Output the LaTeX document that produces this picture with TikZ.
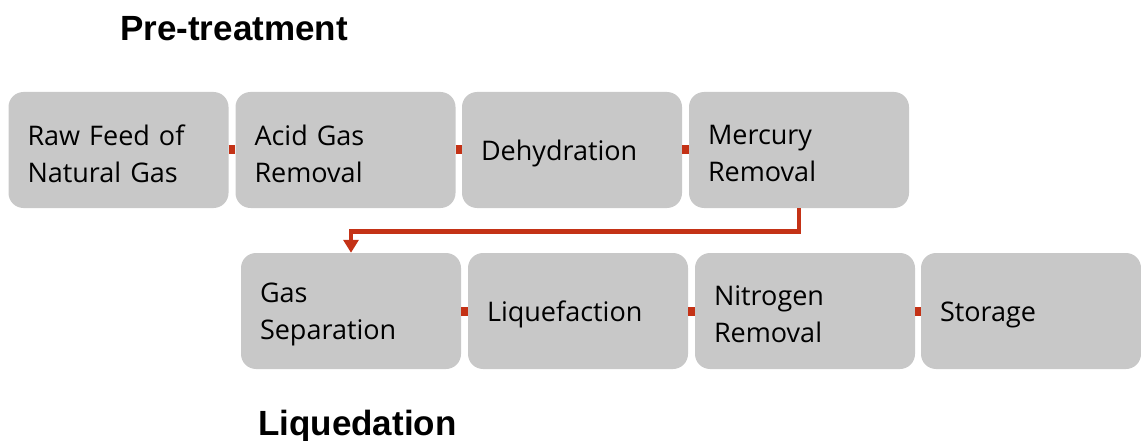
\documentclass[tikz,border=0pt]{standalone}
\usepackage{fontspec}
\setmainfont{Open Sans}
\newfontfamily\titlefont{Liberation Sans}
\usetikzlibrary{arrows.meta}
\definecolor{boxgray}{RGB}{200,200,200}
\definecolor{linkred}{RGB}{196,50,22}
\tikzset{
  stepbox/.style={fill=boxgray, rounded corners=15pt, minimum height=116pt,
    minimum width=220pt, inner sep=0pt},
  boxtext/.style={text width=182pt, inner xsep=19pt, inner ysep=0pt, align=left,
    font=\fontsize{27}{37}\selectfont, text=black, yshift=-3.5pt},
  link/.style={draw=linkred, line width=9pt},
  flow/.style={draw=linkred, line width=4.7pt, -{Triangle[width=15pt,length=13pt]}},
  heading/.style={font=\titlefont\bfseries\fontsize{35}{40}\selectfont, anchor=base west, inner sep=0pt}
}
\begin{document}
\begin{tikzpicture}[x=1pt,y=-1pt]
\useasboundingbox (0,0) rectangle (1141,441);
\node[heading] (t1) at (120,41) {Pre-treatment};
\node[heading] (t2) at (258,435) {Liquedation};
% top row
\node[stepbox] (a) at (118.5,150) {};
\node[stepbox] (b) at (345.5,150) {};
\node[stepbox] (c) at (572,150) {};
\node[stepbox] (d) at (799,150) {};
% bottom row
\node[stepbox] (e) at (351,311) {};
\node[stepbox] (f) at (578,311) {};
\node[stepbox] (g) at (805,311) {};
\node[stepbox] (h) at (1031,311) {};
% texts
\node[boxtext] (at) at (a.center) {Raw Feed of\\Natural Gas};
\node[boxtext] (bt) at (b.center) {Acid Gas\\Removal};
\node[boxtext] (ct) at (c.center) {Dehydration};
\node[boxtext] (dt) at (d.center) {Mercury\\Removal};
\node[boxtext] (et) at (e.center) {Gas\\Separation};
\node[boxtext] (ft) at (f.center) {Liquefaction};
\node[boxtext] (gt) at (g.center) {Nitrogen\\Removal};
\node[boxtext] (ht) at (h.center) {Storage};
% links
\draw[link] (a.east) -- (b.west);
\draw[link] (b.east) -- (c.west);
\draw[link] (c.east) -- (d.west);
\draw[link] (e.east) -- (f.west);
\draw[link] (f.east) -- (g.west);
\draw[link] (g.east) -- (h.west);
\draw[flow] (d.south) -- ++(0,23) -| (e.north);
\end{tikzpicture}
\end{document}
